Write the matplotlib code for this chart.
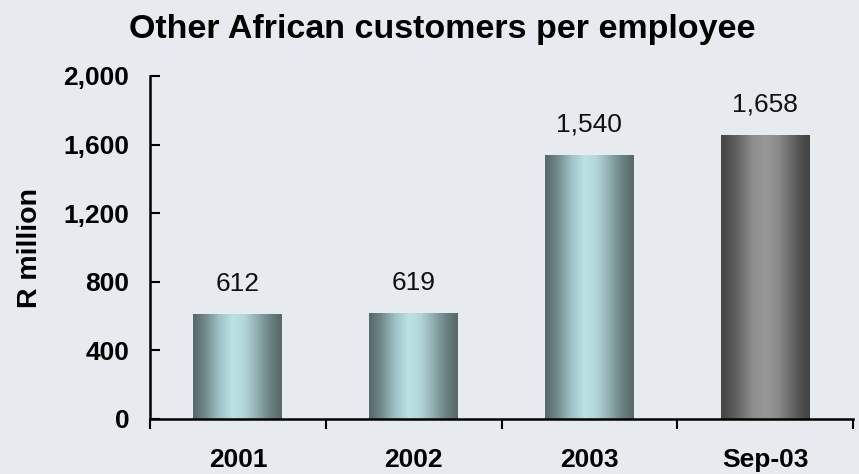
import numpy as np
import matplotlib
matplotlib.use("Agg")
import matplotlib.pyplot as plt
from matplotlib.colors import LinearSegmentedColormap

categories = ["2001", "2002", "2003", "Sep-03"]
values = [612, 619, 1540, 1658]
value_labels = ["612", "619", "1,540", "1,658"]
yticks = [0, 400, 800, 1200, 1600, 2000]
ytick_labels = ["0", "400", "800", "1,200", "1,600", "2,000"]
title = "Other African customers per employee"
ylabel = "R million"

plt.rcParams['font.family'] = ['Liberation Sans', 'DejaVu Sans']

bg = "#E7EAEE"
fig = plt.figure(figsize=(8.59, 4.74), dpi=100, facecolor=bg)
ax = fig.add_axes([150/859, 55/474, 703/859, 343/474], facecolor=bg)

teal = LinearSegmentedColormap.from_list("teal", [
    (0.0, "#566869"), (0.12, "#6e8485"), (0.3, "#9fc4c7"), (0.45, "#bce2e6"),
    (0.58, "#b2d6da"), (0.75, "#8aa5a7"), (0.88, "#687e7f"), (1.0, "#566869")])
gray = LinearSegmentedColormap.from_list("grayb", [
    (0.0, "#454545"), (0.15, "#5c5c5c"), (0.35, "#8c8c8c"), (0.5, "#979797"),
    (0.65, "#8a8a8a"), (0.8, "#666666"), (0.92, "#4c4c4c"), (1.0, "#444444")])
cmaps = [teal, teal, teal, gray]

x = np.arange(len(categories))
bars = ax.bar(x, values, width=0.505, color="none", edgecolor="none", zorder=2)
grad = np.linspace(0, 1, 256).reshape(1, -1)
for b, cm in zip(bars, cmaps):
    bx, bw, bh = b.get_x(), b.get_width(), b.get_height()
    im = ax.imshow(grad, cmap=cm, aspect="auto", extent=[bx, bx + bw, 0, bh],
                   interpolation="bicubic", zorder=2)
    im.set_clip_path(b)

for b, lab in zip(bars, value_labels):
    ax.annotate(lab, (b.get_x() + b.get_width() / 2, b.get_height()),
                xytext=(0, 13), textcoords="offset points", ha="center", va="bottom",
                fontsize=19, color="#111111")

ax.set_xlim(-0.5, len(categories) - 0.5)
ax.set_ylim(0, 2000)
ax.set_yticks(yticks)
ax.set_yticklabels(ytick_labels, fontsize=19, fontweight="bold")
ax.set_xticks(x)
ax.set_xticklabels(categories, fontsize=19, fontweight="bold")
ax.set_xticks(np.arange(len(categories) + 1) - 0.5, minor=True)
ax.tick_params(axis="x", which="major", length=0, pad=21)
ax.tick_params(axis="x", which="minor", length=7, width=1.5, direction="out")
ax.tick_params(axis="y", length=7, width=1.5, direction="in", pad=15)

for s in ["top", "right"]:
    ax.spines[s].set_visible(False)
for s in ["left", "bottom"]:
    ax.spines[s].set_linewidth(1.8)
    ax.spines[s].set_color("black")

fig.text(0.515, 436/474, title, ha="center", va="baseline", fontsize=24.5, fontweight="bold")
fig.text(30/859, 226/474, ylabel, ha="center", va="center", rotation=90,
         fontsize=20.5, fontweight="bold")

fig.savefig("out.png", dpi=100, facecolor=bg)
